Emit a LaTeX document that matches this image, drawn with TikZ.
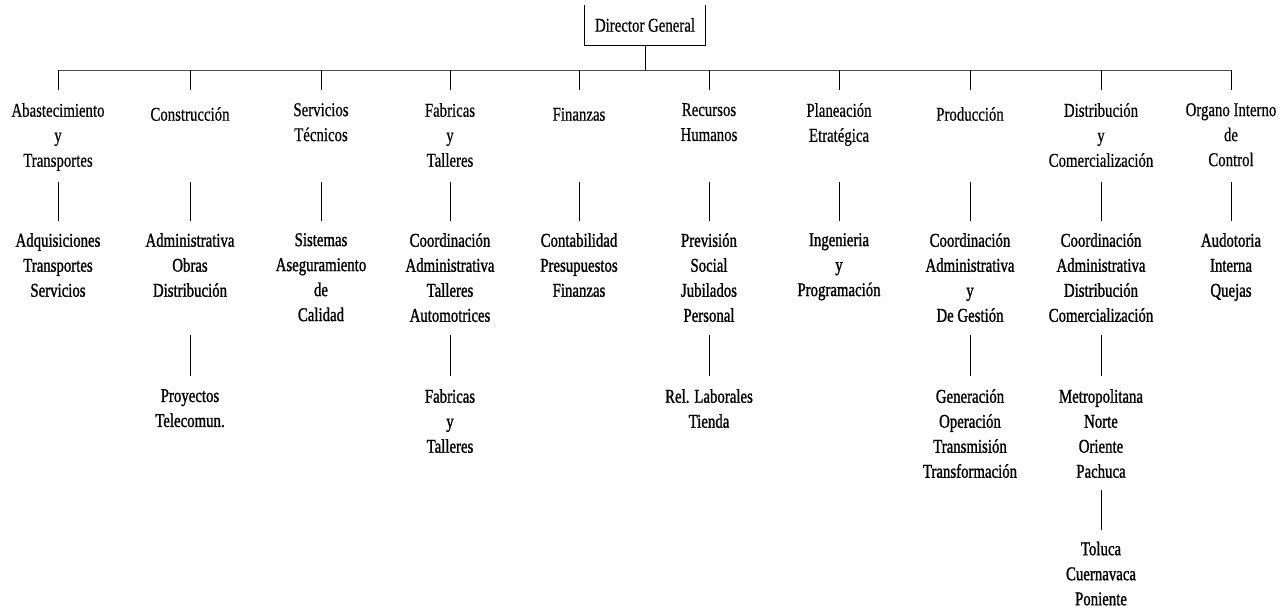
\documentclass[tikz,border=0pt]{standalone}
\usepackage{fontspec}
\setmainfont{Liberation Serif}
\newfontfamily\orgA[FakeStretch=0.76,FakeBold=0.5]{Liberation Serif}
\newfontfamily\orgB[FakeStretch=0.76,FakeBold=1.2]{Liberation Serif}
\begin{document}
\begin{tikzpicture}[x=1pt,y=-1pt,
  unit/.style={align=center,inner sep=0pt,anchor=north,
    font=\orgA\fontsize{19.5}{25}\selectfont,
    execute at begin node=\strut,execute at end node=\strut},
  sub/.style={unit,font=\orgB\fontsize{19.5}{25}\selectfont},
  link/.style={draw=black,line width=0.7pt},
  busline/.style={draw=black!70,line width=0.7pt},
  boxline/.style={draw=black,line width=1.2pt}]
\useasboundingbox (0,0) rectangle (1284,612);

% director
\node[inner sep=0pt,minimum width=120pt,minimum height=40pt,
  font=\orgA\fontsize{19.5}{25}\selectfont] (dg) at (645,25) {Director General};
\draw[boxline] (dg.north west) -- (dg.south west) -- (dg.south east) -- (dg.north east);

% row coordinates
\coordinate (busL) at (58,70);
\coordinate (busR) at (1231,70);
\coordinate (dropend) at (0,90);
\coordinate (r1a) at (0,182);
\coordinate (r1b) at (0,221);
\coordinate (r2a) at (0,335);
\coordinate (r2b) at (0,376);
\coordinate (r3a) at (0,490);
\coordinate (r3b) at (0,530);

% level 1
\node[unit] (a1) at (58,103) {Abastecimiento\\y\\Transportes};
\node[unit] (a2) at (190,103) {Construcción};
\node[unit] (a3) at (321,103) {Servicios\\Técnicos};
\node[unit] (a4) at (450,103) {Fabricas\\y\\Talleres};
\node[unit] (a5) at (579,103) {Finanzas};
\node[unit] (a6) at (709,103) {Recursos\\Humanos};
\node[unit] (a7) at (839,103) {Planeación\\Etratégica};
\node[unit] (a8) at (970,103) {Producción};
\node[unit] (a9) at (1101,103) {Distribución\\y\\Comercialización};
\node[unit] (a10) at (1231,103) {Organo Interno\\de\\Control};

% level 2
\node[sub] (b1) at (58,233) {Adquisiciones\\Transportes\\Servicios};
\node[sub] (b2) at (190,233) {Administrativa\\Obras\\Distribución};
\node[sub] (b3) at (321,233) {Sistemas\\Aseguramiento\\de\\Calidad};
\node[sub] (b4) at (450,233) {Coordinación\\Administrativa\\Talleres\\Automotrices};
\node[sub] (b5) at (579,233) {Contabilidad\\Presupuestos\\Finanzas};
\node[sub] (b6) at (709,233) {Previsión\\Social\\Jubilados\\Personal};
\node[sub] (b7) at (839,233) {Ingenieria\\y\\Programación};
\node[sub] (b8) at (970,233) {Coordinación\\Administrativa\\y\\De Gestión};
\node[sub] (b9) at (1101,233) {Coordinación\\Administrativa\\Distribución\\Comercialización};
\node[sub] (b10) at (1231,233) {Audotoria\\Interna\\Quejas};

% level 3
\node[sub] (c2) at (190,389) {Proyectos\\Telecomun.};
\node[sub] (c4) at (450,389) {Fabricas\\y\\Talleres};
\node[sub] (c6) at (709,389) {Rel. Laborales\\Tienda};
\node[sub] (c8) at (970,389) {Generación\\Operación\\Transmisión\\Transformación};
\node[sub] (c9) at (1101,389) {Metropolitana\\Norte\\Oriente\\Pachuca};

% level 4
\node[sub] (d9) at (1101,541.5) {Toluca\\Cuernavaca\\Poniente};

% bus and stem
\draw[busline] (busL) -- (busR);
\draw[link] (dg.south) -- (dg.south |- busL);
\foreach \n in {a1,a2,a3,a4,a5,a6,a7,a8,a9,a10}
  \draw[link] (\n.north |- busL) -- (\n.north |- dropend);

% level 1 -> level 2
\foreach \i in {1,...,10}
  \draw[link] (a\i.south |- r1a) -- (b\i.north |- r1b);

% level 2 -> level 3
\foreach \i in {2,4,6,8,9}
  \draw[link] (b\i.south |- r2a) -- (c\i.north |- r2b);

% level 3 -> level 4
\draw[link] (c9.south |- r3a) -- (d9.north |- r3b);
\end{tikzpicture}
\end{document}
